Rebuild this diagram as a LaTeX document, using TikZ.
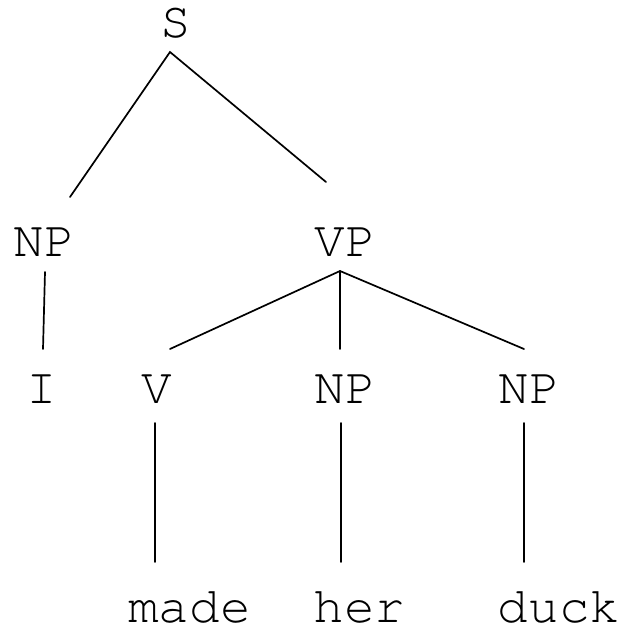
\documentclass[tikz,border=0pt]{standalone}
\newcommand{\couriertree}{\fontsize{51}{51}\usefont{T1}{pcr}{m}{n}}
\begin{document}
\begin{tikzpicture}[x=1pt,y=-1pt,
  lbl/.style={font=\couriertree, anchor=base, inner sep=0pt},
  edge/.style={line width=1.7pt, line cap=round}]
\useasboundingbox (0,0) rectangle (621,627);
\node[lbl] (S) at (176,37) {S};
\node[lbl] (NP1) at (44.5,256) {NP};
\node[lbl] (VP) at (345.5,256) {VP};
\node[lbl] (I) at (41.5,403) {I};
\node[lbl] (V) at (157,403) {V};
\node[lbl] (NP2) at (345,403) {NP};
\node[lbl] (NP3) at (529.5,403) {NP};
\node[lbl] (made) at (189.5,622) {made};
\node[lbl] (her) at (359.5,622) {her};
\node[lbl] (duck) at (559,622) {duck};
% connector ends
\coordinate (Sb) at (170,52);
\coordinate (NP1t) at (70,197);
\coordinate (VPt) at (326,182);
\coordinate (NP1b) at (45,272);
\coordinate (It) at (43,349);
\coordinate (VPb) at (340,271);
\coordinate (Vt) at (170,349);
\coordinate (NP2t) at (340,349);
\coordinate (NP3t) at (524,349);
\coordinate (Vb) at (155,423);
\coordinate (madet) at (155,562);
\coordinate (NP2b) at (341,423);
\coordinate (hert) at (341,562);
\coordinate (NP3b) at (524,423);
\coordinate (duckt) at (524,562);
\draw[edge] (NP1t) -- (Sb) -- (VPt);
\draw[edge] (NP1b) -- (It);
\draw[edge] (Vt) -- (VPb) -- (NP3t);
\draw[edge] (VPb) -- (NP2t);
\draw[edge] (Vb) -- (madet);
\draw[edge] (NP2b) -- (hert);
\draw[edge] (NP3b) -- (duckt);
\end{tikzpicture}
\end{document}
